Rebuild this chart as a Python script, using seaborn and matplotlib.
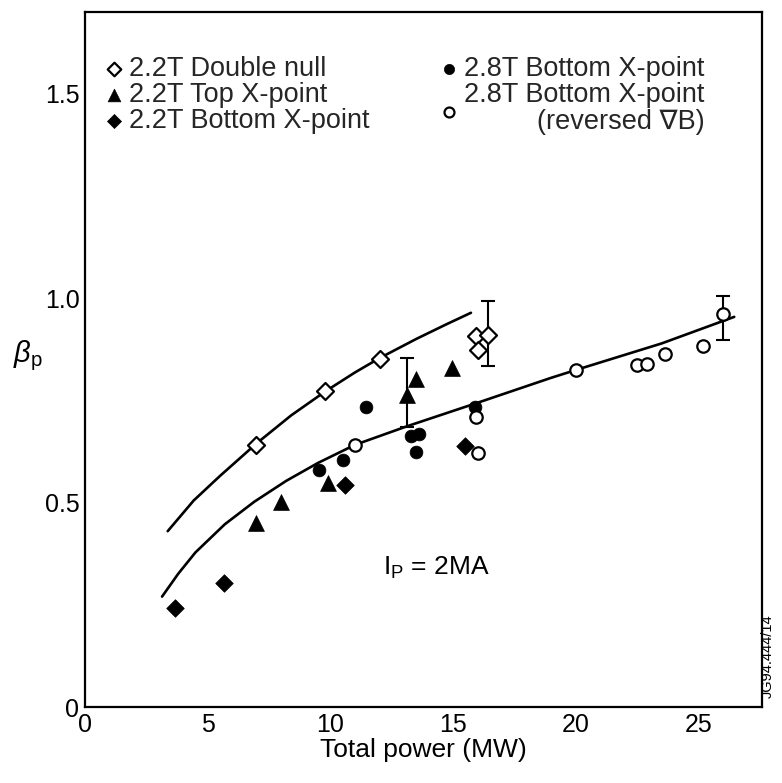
import matplotlib
matplotlib.use("Agg")
import numpy as np
import pandas as pd
import matplotlib.pyplot as plt
import seaborn as sns

# Data: total power (MW) vs beta_p
dn22_x = [6.96, 9.78, 12.04, 15.92, 16.41, 16.03]          # 2.2T double null (open diamond)
dn22_y = [0.640, 0.772, 0.851, 0.907, 0.909, 0.873]
top22_x = [6.96, 7.98, 9.89, 13.13, 13.49, 14.96]           # 2.2T top X-point (triangle)
top22_y = [0.449, 0.501, 0.548, 0.762, 0.801, 0.828]
bot22_x = [3.68, 5.66, 10.60, 15.48]                        # 2.2T bottom X-point (filled diamond)
bot22_y = [0.241, 0.303, 0.543, 0.638]
bot28_x = [9.52, 10.50, 11.46, 13.27, 13.60, 13.47, 15.89]  # 2.8T bottom X-point (filled circle)
bot28_y = [0.580, 0.603, 0.734, 0.663, 0.667, 0.623, 0.734]
rev28_x = [11.00, 15.92, 16.00, 20.00, 22.48, 22.91, 23.64, 25.19, 26.01]  # reversed grad B (open circle)
rev28_y = [0.641, 0.709, 0.621, 0.824, 0.836, 0.838, 0.864, 0.883, 0.961]

# error bars
err_x = [13.13, 16.41, 26.01]
err_y = [0.762, 0.909, 0.961]
err_lo = [0.685, 0.833, 0.897]
err_hi = [0.854, 0.993, 1.004]

# fitted curves (traced)
upper_x = [3.37, 4.43, 5.5, 7.0, 8.4, 9.8, 11.0, 12.0, 13.5, 14.7, 15.73]
upper_y = [0.430, 0.505, 0.565, 0.645, 0.713, 0.772, 0.818, 0.853, 0.900, 0.935, 0.964]
lower_x = [3.14, 3.8, 4.5, 5.7, 6.9, 8.2, 9.5, 11.0, 13.1, 15.9, 19.0, 20.0, 23.5, 26.46]
lower_y = [0.270, 0.326, 0.378, 0.447, 0.502, 0.553, 0.597, 0.641, 0.686, 0.742, 0.805, 0.824, 0.889, 0.954]

labels = ["2.2T Double null", "2.2T Top X-point", "2.2T Bottom X-point",
          "2.8T Bottom X-point", "2.8T Bottom X-point\n(reversed \u2207B)"]

sns.set_theme(style="white")
plt.rcParams["font.family"] = ["Liberation Sans", "DejaVu Sans"]
plt.rcParams["mathtext.fontset"] = "custom"
plt.rcParams["mathtext.rm"] = "Liberation Sans"
plt.rcParams["mathtext.it"] = "Liberation Sans:italic"

fig = plt.figure(figsize=(7.82, 7.83), dpi=100)
ax = fig.add_axes([0.1087, 0.097, 0.866, 0.888])

sns.lineplot(x=upper_x, y=upper_y, ax=ax, color="black", lw=1.9)
sns.lineplot(x=lower_x, y=lower_y, ax=ax, color="black", lw=1.9)

ax.errorbar(err_x, err_y,
            yerr=[np.array(err_y) - np.array(err_lo), np.array(err_hi) - np.array(err_y)],
            fmt="none", ecolor="black", elinewidth=1.5, capsize=5, capthick=1.5, zorder=2)

sns.scatterplot(x=dn22_x, y=dn22_y, ax=ax, marker="D", s=75, facecolor="white",
                edgecolor="black", linewidth=1.6, label=labels[0], zorder=3)
sns.scatterplot(x=top22_x, y=top22_y, ax=ax, marker="^", s=130, color="black",
                edgecolor="black", linewidth=0.5, label=labels[1], zorder=3)
sns.scatterplot(x=bot22_x, y=bot22_y, ax=ax, marker="D", s=80, color="black",
                edgecolor="black", linewidth=0.5, label=labels[2], zorder=3)
sns.scatterplot(x=bot28_x, y=bot28_y, ax=ax, marker="o", s=85, color="black",
                edgecolor="black", linewidth=0.5, label=labels[3], zorder=3)
sns.scatterplot(x=rev28_x, y=rev28_y, ax=ax, marker="o", s=80, facecolor="white",
                edgecolor="black", linewidth=1.6, label=labels[4], zorder=3)

ax.set_xlim(0, 27.6)
ax.set_ylim(0, 1.7)
ax.set_xticks([0, 5, 10, 15, 20, 25])
ax.set_yticks([0, 0.5, 1.0, 1.5])
ax.set_yticklabels(["0", "0.5", "1.0", "1.5"])
ax.tick_params(direction="in", width=1.2, labelsize=18, colors="black", pad=4)
ax.tick_params(axis="x", length=9)
ax.tick_params(axis="y", length=13)
for sp in ax.spines.values():
    sp.set_visible(True)
    sp.set_color("black")
    sp.set_linewidth(1.6)

ax.set_xlabel("Total power (MW)", fontsize=19, color="black", labelpad=1)
ax.set_ylabel(r"$\beta_{\mathrm{p}}$", fontsize=21, rotation=0, color="black", labelpad=14)
ax.yaxis.set_label_coords(-0.085, 0.48)

ax.text(12.15, 0.323, r"I$_\mathrm{P}$ = 2MA", fontsize=19, color="black", va="baseline")
fig.text(0.982, 0.162, "JG94.444/14", rotation=90, fontsize=10.5, color="black",
         ha="center", va="center")

leg = ax.legend(ncol=2, loc="upper left", bbox_to_anchor=(0.0045, 0.963), frameon=False,
                fontsize=19.5, handlelength=0.5, handletextpad=0.3, columnspacing=2.7,
                labelspacing=0.0, markerscale=0.8, borderaxespad=0.3)
leg.get_texts()[4].set_multialignment("right")
leg.get_texts()[4].set_linespacing(1.03)

fig.savefig("out.png", dpi=100)
